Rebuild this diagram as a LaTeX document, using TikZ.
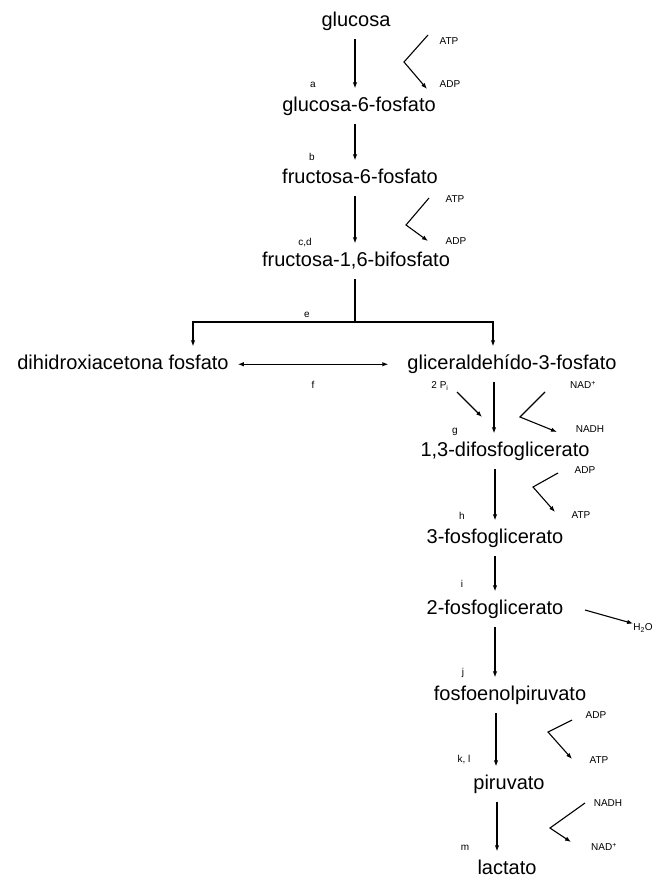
\documentclass[tikz,border=0pt]{standalone}
\usepackage{fontspec}
\setmainfont{Liberation Sans}
\usetikzlibrary{arrows.meta}
\begin{document}
\begin{tikzpicture}[x=1pt,y=-1pt,
  met/.style={font=\fontsize{20}{22}\selectfont, inner xsep=0pt, inner ysep=8pt,
              text height=14.5pt, text depth=5pt, anchor=base},
  lab/.style={font=\fontsize{10}{11}\selectfont, inner sep=0pt},
  arr/.style={-{Latex[length=6pt,width=4.5pt]}, line width=1.1pt},
  darr/.style={{Latex[length=6pt,width=4.5pt]}-{Latex[length=6pt,width=4.5pt]}, line width=1.1pt},
  ln/.style={line width=1.1pt}]
\useasboundingbox (0,0) rectangle (659,881);
\fill[white] (0,0) rectangle (659,881);

% metabolites
\node[met] (glc)  at (356,26)  {glucosa};
\node[met] (g6p)  at (359,111) {glucosa-6-fosfato};
\node[met] (f6p)  at (360,183) {fructosa-6-fosfato};
\node[met] (fbp)  at (356,266) {fructosa-1,6-bifosfato};
\node[met] (dhap) at (123,369) {dihidroxiacetona fosfato};
\node[met] (gap)  at (512,369) {gliceraldehído-3-fosfato};
\node[met] (dpg)  at (505,456) {1,3-difosfoglicerato};
\node[met] (pg3)  at (495,543) {3-fosfoglicerato};
\node[met] (pg2)  at (495,614) {2-fosfoglicerato};
\node[met] (pep)  at (510,700) {fosfoenolpiruvato};
\node[met] (pyr)  at (509,789) {piruvato};
\node[met] (lac)  at (507,874) {lactato};

% columns
\coordinate (c1) at (355,0);
\coordinate (cl) at (193,0);
\coordinate (cr) at (493,0);
\coordinate (c2) at (494,0);
\coordinate (c3) at (495,0);
\coordinate (c4) at (496,0);
\coordinate (c5) at (497,0);
\coordinate (jn) at (355,322);

% main arrows
\draw[arr] (glc.south -| c1) -- (g6p.north -| c1);
\draw[arr] (g6p.south -| c1) -- (f6p.north -| c1);
\draw[arr] (f6p.south -| c1) -- (fbp.north -| c1);
\draw[ln]  (fbp.south -| c1) -- (jn);
\draw[arr] (jn) -| (dhap.north -| cl);
\draw[arr] (jn) -| (gap.north -| cr);
\draw[darr, shorten <=9pt, shorten >=19pt] (dhap.east) -- (gap.west);
\draw[arr] (gap.south -| c2) -- (dpg.north -| c2);
\draw[arr] (dpg.south -| c3) -- (pg3.north -| c3);
\draw[arr] (pg3.south -| c3) -- (pg2.north -| c3);
\draw[arr] (pg2.south -| c3) -- (pep.north -| c3);
\draw[arr] (pep.south -| c4) -- (pyr.north -| c4);
\draw[arr] (pyr.south -| c5) -- (lac.north -| c5);

% enzyme letters
\node[lab] (la) at (313,85)  {a};
\node[lab] (lb) at (312,157) {b};
\node[lab] (lc) at (305,243) {c,d};
\node[lab] (le) at (307,315) {e};
\node[lab] (lf) at (313,385) {f};
\node[lab] (lg) at (455,432) {g};
\node[lab] (lh) at (462,516) {h};
\node[lab] (li) at (462,584) {i};
\node[lab] (lj) at (463,673) {j};
\node[lab] (lk) at (464,760) {k, l};
\node[lab] (lm) at (465,848) {m};

% cofactors
\node[lab] (atp1) at (449,41)  {ATP};
\node[lab] (adp1) at (450,84)  {ADP};
\coordinate (s1) at (428,35); \coordinate (v1) at (404,62); \coordinate (e1) at (427,89);
\draw[arr] (s1) -- (v1) -- (e1);

\node[lab] (atp2) at (455,199) {ATP};
\node[lab] (adp2) at (456,241) {ADP};
\coordinate (s2) at (429,198); \coordinate (v2) at (406,225); \coordinate (e2) at (428,241);
\draw[arr] (s2) -- (v2) -- (e2);

\node[lab] (pi)   at (440,386) {2 P\textsubscript{i}};
\coordinate (sp) at (457,392); \coordinate (ep) at (482,417);
\draw[arr] (sp) -- (ep);

\node[lab] (nad1)  at (583,385) {NAD\textsuperscript{+}};
\node[lab] (nadh1) at (590,429) {NADH};
\coordinate (s3) at (545,392); \coordinate (v3) at (520,417); \coordinate (e3) at (557,432);
\draw[arr] (s3) -- (v3) -- (e3);

\node[lab] (adp3) at (585,470) {ADP};
\node[lab] (atp3) at (581,515) {ATP};
\coordinate (s4) at (558,473); \coordinate (v4) at (533,487); \coordinate (e4) at (555,512);
\draw[arr] (s4) -- (v4) -- (e4);

\node[lab] (h2o) at (643,628) {H\textsubscript{2}O};
\coordinate (sw) at (585,610);
\draw[arr] (sw) -- (h2o.north west);

\node[lab] (adp4) at (596,715) {ADP};
\node[lab] (atp4) at (599,760) {ATP};
\coordinate (s5) at (572,720); \coordinate (v5) at (548,732); \coordinate (e5) at (572,759);
\draw[arr] (s5) -- (v5) -- (e5);

\node[lab] (nadh2) at (608,803) {NADH};
\node[lab] (nad2)  at (604,847) {NAD\textsuperscript{+}};
\coordinate (s6) at (585,803); \coordinate (v6) at (550,828); \coordinate (e6) at (571,842);
\draw[arr] (s6) -- (v6) -- (e6);
\end{tikzpicture}
\end{document}
